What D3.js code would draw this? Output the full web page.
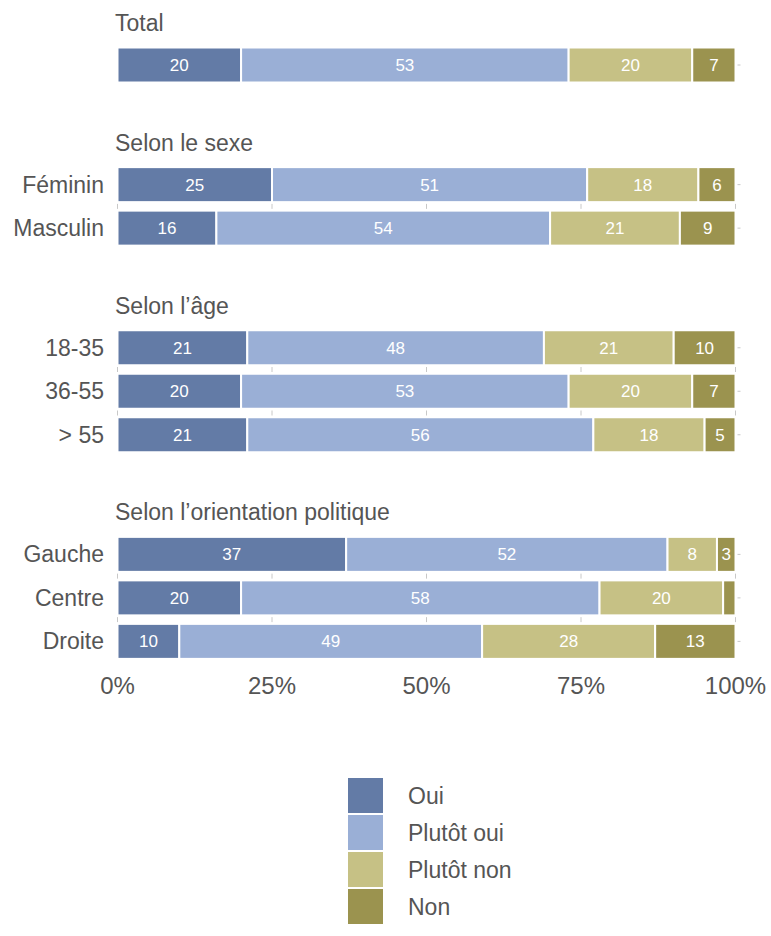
<!DOCTYPE html>
<html>
<head>
<meta charset="utf-8">
<script src="https://cdn.jsdelivr.net/npm/d3@7"></script>
<style>
  body { margin: 0; background: #fff; }
  text { font-family: "Liberation Sans", Arial, Helvetica, sans-serif; }
</style>
</head>
<body>
<div id="chart"></div>
<script>
// answers, in stacking order
var answers = ["Oui", "Plutôt oui", "Plutôt non", "Non"];
var colors = ["#637ba6", "#9aafd6", "#c6c185", "#9b934f"];

// groups and their rows
var groups = ["Total", "Selon le sexe", "Selon l’âge", "Selon l’orientation politique"];
var rowLabels = ["", "Féminin", "Masculin", "18-35", "36-55", "> 55", "Gauche", "Centre", "Droite"];
var rowGroup = [0, 1, 1, 2, 2, 2, 3, 3, 3];

// values per answer (same order as rowLabels)
var oui       = [20, 25, 16, 21, 20, 21, 37, 20, 10];
var plutotOui = [53, 51, 54, 48, 53, 56, 52, 58, 49];
var plutotNon = [20, 18, 21, 21, 20, 18,  8, 20, 28];
var non       = [ 7,  6,  9, 10,  7,  5,  3,  2, 13];

var xTicks = [0, 25, 50, 75, 100];

var width = 771, height = 936;
var svg = d3.select("#chart").append("svg")
  .attr("width", width)
  .attr("height", height);

var textColor = "#555";
var fontSize = 23;

// row position: one unit per row, extra space before each new group
var rowPos = [];
var pos = 0;
rowLabels.forEach(function(d, i) {
  if (i > 0) pos += (rowGroup[i] != rowGroup[i - 1]) ? 2.75 : 1;
  rowPos.push(pos);
});

var xScale = d3.scaleLinear().domain([0, 100]).range([117.5, 735.5]);
var yScale = d3.scaleLinear().domain([0, 1]).range([65, 108.5]);
var barH = 35;

var table = rowLabels.map(function(d, i) {
  return {label: d, group: rowGroup[i], pos: rowPos[i],
    "Oui": oui[i], "Plutôt oui": plutotOui[i], "Plutôt non": plutotNon[i], "Non": non[i]};
});

var stacked = d3.stack().keys(answers)(table);

// small ticks between bars of the same group
var gapTicks = [];
table.forEach(function(d, i) {
  if (i > 0 && table[i - 1].group == d.group) {
    xTicks.forEach(function(t) {
      gapTicks.push({x: t, y: (yScale(d.pos) + yScale(table[i - 1].pos)) / 2});
    });
  }
});
svg.append("g").selectAll("line")
  .data(gapTicks)
  .enter().append("line")
  .attr("x1", function(d) { return xScale(d.x); })
  .attr("x2", function(d) { return xScale(d.x); })
  .attr("y1", function(d) { return d.y - 2.5; })
  .attr("y2", function(d) { return d.y + 2.5; })
  .style("stroke", "#c8c8c8")
  .style("stroke-width", 1);

// right ticks
svg.append("g").selectAll("line")
  .data(table)
  .enter().append("line")
  .attr("x1", xScale(100) + 2)
  .attr("x2", xScale(100) + 5)
  .attr("y1", function(d) { return yScale(d.pos); })
  .attr("y2", function(d) { return yScale(d.pos); })
  .style("stroke", "#c8c8c8")
  .style("stroke-width", 1);

// bars
var layers = svg.append("g").selectAll("g")
  .data(stacked)
  .enter().append("g")
  .attr("fill", function(d, i) { return colors[i]; });

layers.selectAll("rect")
  .data(function(d) { return d; })
  .enter().append("rect")
  .attr("x", function(d) { return xScale(d[0]); })
  .attr("y", function(d) { return yScale(d.data.pos) - barH / 2; })
  .attr("width", function(d) { return xScale(d[1]) - xScale(d[0]); })
  .attr("height", barH)
  .style("stroke", "#fff")
  .style("stroke-width", 2);

layers.selectAll("text")
  .data(function(d) { return d.filter(function(e) { return e[1] - e[0] >= 3; }); })
  .enter().append("text")
  .attr("x", function(d) { return (xScale(d[0]) + xScale(d[1])) / 2; })
  .attr("y", function(d) { return yScale(d.data.pos) + 6; })
  .attr("text-anchor", "middle")
  .attr("fill", "#fff")
  .attr("font-size", 17)
  .text(function(d) { return d[1] - d[0]; });

// row labels
svg.append("g").selectAll("text")
  .data(table)
  .enter().append("text")
  .attr("x", 104)
  .attr("y", function(d) { return yScale(d.pos) + 8; })
  .attr("text-anchor", "end")
  .attr("fill", textColor)
  .attr("font-size", fontSize)
  .text(function(d) { return d.label; });

// group titles
svg.append("g").selectAll("text")
  .data(groups)
  .enter().append("text")
  .attr("x", 115)
  .attr("y", function(d, i) {
    var first = table.find(function(r) { return r.group == i; });
    return yScale(first.pos) - 34;
  })
  .attr("fill", textColor)
  .attr("font-size", fontSize)
  .text(function(d) { return d; });

// x axis labels
var lastPos = d3.max(rowPos);
svg.append("g").selectAll("text")
  .data(xTicks)
  .enter().append("text")
  .attr("x", function(d) { return xScale(d); })
  .attr("y", yScale(lastPos) + 53)
  .attr("text-anchor", "middle")
  .attr("fill", textColor)
  .attr("font-size", 24)
  .text(function(d) { return d + "%"; });

// legend
var legend = svg.append("g").selectAll("g")
  .data(answers)
  .enter().append("g")
  .attr("transform", function(d, i) { return "translate(348," + (778 + i * 37) + ")"; });

legend.append("rect")
  .attr("width", 35)
  .attr("height", 35)
  .attr("fill", function(d, i) { return colors[i]; });

legend.append("text")
  .attr("x", 60)
  .attr("y", 26)
  .attr("fill", textColor)
  .attr("font-size", fontSize)
  .text(function(d) { return d; });
</script>
</body>
</html>
